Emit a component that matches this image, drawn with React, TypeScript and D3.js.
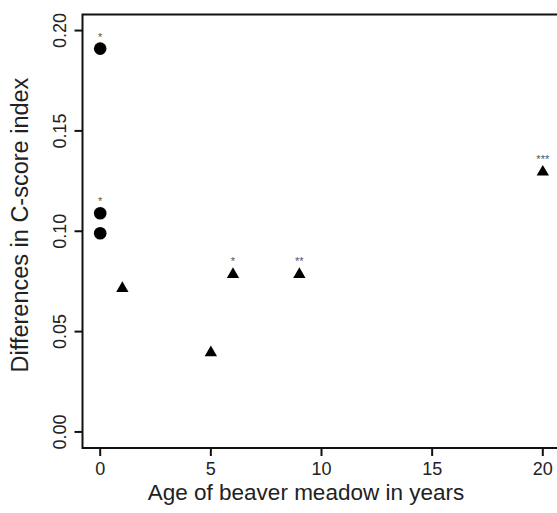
import React from "react";
import * as d3 from "d3";

const circleX = [0, 0, 0];
const circleY = [0.191, 0.109, 0.099];
const circleSig = ["*", "*", ""];
const triX = [1, 5, 6, 9, 20];
const triY = [0.072, 0.040, 0.079, 0.079, 0.130];
const triSig = ["", "", "*", "**", "***"];
const xTicks = [0, 5, 10, 15, 20];
const yTicks = [0, 0.05, 0.1, 0.15, 0.2];
const xLabel = "Age of beaver meadow in years";
const yLabel = "Differences in C-score index";

export default function App() {
  const W = 557, H = 513;
  const x = d3.scaleLinear().domain([-0.8, 20.8]).range([82.5, 560.5]);
  const y = d3.scaleLinear().domain([-0.008, 0.208]).range([448, 14.5]);
  const font = "'Liberation Sans', Arial, Helvetica, sans-serif";
  const tri = d3.symbol().type(d3.symbolTriangle).size(66);
  const [x0, x1] = x.range();
  const [yb, yt] = y.range();
  return (
    <svg width={W} height={H} style={{ position: "absolute", left: 0, top: 0, background: "#fff" }} fontFamily={font}>
      <rect x={0} y={0} width={W} height={H} fill="#fff" />
      <rect x={x0} y={yt} width={x1 - x0} height={yb - yt} fill="none" stroke="#111" strokeWidth={2} />
      {xTicks.map((t) => (
        <g key={"x" + t}>
          <line x1={x(t)} x2={x(t)} y1={yb} y2={yb + 8} stroke="#111" strokeWidth={2} />
          <text x={x(t)} y={475} textAnchor="middle" fontSize={18} fill="#222">{t}</text>
        </g>
      ))}
      {yTicks.map((t) => (
        <g key={"y" + t}>
          <line x1={x0 - 8} x2={x0} y1={y(t)} y2={y(t)} stroke="#111" strokeWidth={2} />
          <text transform={`translate(66,${y(t)}) rotate(-90)`} textAnchor="middle" fontSize={18} fill="#222">{t.toFixed(2)}</text>
        </g>
      ))}
      <text x={306} y={500} textAnchor="middle" fontSize={22.5} fill="#222">{xLabel}</text>
      <text transform={`translate(28,225) rotate(-90)`} textAnchor="middle" fontSize={23.5} fill="#222">{yLabel}</text>
      {circleX.map((v, i) => (
        <g key={"c" + i}>
          <circle cx={x(v)} cy={y(circleY[i])} r={6.3} fill="#000" />
          {circleSig[i] && (
            <text x={x(v)} y={y(circleY[i]) - 8} textAnchor="middle" fontSize={11} fill="#555">{circleSig[i]}</text>
          )}
        </g>
      ))}
      {triX.map((v, i) => (
        <g key={"t" + i}>
          <path d={tri()!} transform={`translate(${x(v)},${y(triY[i]) + 1})`} fill="#000" />
          {triSig[i] && (
            <text x={x(v)} y={y(triY[i]) - 8} textAnchor="middle" fontSize={11} fill="#555">{triSig[i]}</text>
          )}
        </g>
      ))}
    </svg>
  );
}
